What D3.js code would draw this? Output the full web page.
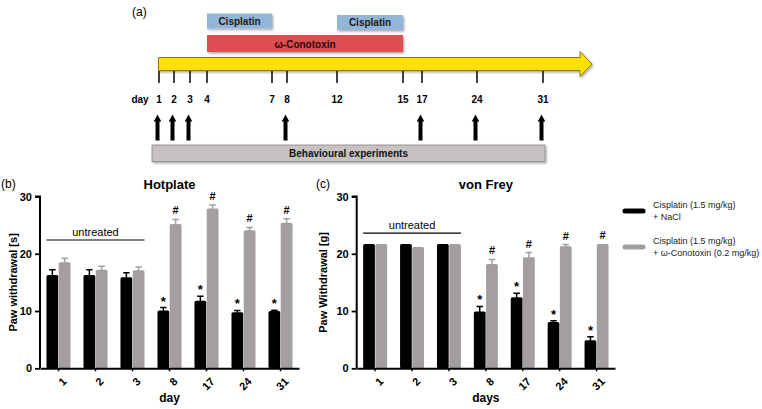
<!DOCTYPE html>
<html><head><meta charset="utf-8">
<script src="https://cdn.jsdelivr.net/npm/d3@7"></script>
<style>
body{margin:0;background:#fff;}
svg{display:block;font-family:"Liberation Sans",Arial,sans-serif;}
</style></head><body>
<svg id="c" width="762" height="409"></svg>
<script>
// ---------- data ----------
const days = ["1","2","3","8","17","24","31"];
const hotNaCl = [16.3,16.3,15.9,10.1,11.8,9.8,10.0];
const hotNaClErr = [0.9,0.9,0.8,0.5,0.8,0.3,0.15];
const hotCono = [18.5,17.2,17.1,25.2,27.9,24.1,25.4];
const hotConoErr = [0.7,0.6,0.6,0.8,0.6,0.5,0.7];
const vfNaCl = [21.7,21.7,21.7,9.9,12.4,8.1,4.9];
const vfNaClErr = [0,0,0,0.9,0.7,0.2,0.6];
const vfCono = [21.7,21.2,21.7,18.2,19.4,21.3,21.7];
const vfConoErr = [0,0,0,0.8,0.8,0.3,0];
const hotSig = ["","","","*","*","*","*"];
const hotSigCono = ["","","","#","#","#","#"];
const vfSig = ["","","","*","*","*","*"];
const vfSigCono = ["","","","#","#","#","#"];
const yTicks = [0,10,20,30];
const untreatedDays = ["1","3"];
const legendLabels = [["Cisplatin (1.5 mg/kg)","+ NaCl"],["Cisplatin (1.5 mg/kg)","+ \u03c9-Conotoxin (0.2 mg/kg)"]];
// timeline
const tlDays = [1,2,3,4,7,8,12,15,17,24,31];
const testDays = [1,2,3,8,17,24,31];
const cisplatinPeriods = [[4,7],[12,15]];
const conotoxinPeriod = [4,15];

const svg = d3.select("#c");
const BLACK = "#000", GRAY = "#a39ea0";

// ---------- panel (a): timeline ----------
// schematic (non-uniform) day positions as in the original drawing
const tx = d3.scaleLinear().domain(tlDays).range([159,174,190,207,272,287,337,403,422,477,543]);
const ga = svg.append("g");
const defs = svg.append("defs");
const f = defs.append("filter").attr("id","sh").attr("x","-10%").attr("y","-30%").attr("width","130%").attr("height","180%");
f.append("feDropShadow").attr("dx",1.2).attr("dy",1.5).attr("stdDeviation",0.8).attr("flood-color","#000").attr("flood-opacity",0.35);

ga.append("text").attr("x",132).attr("y",16).attr("font-size",12).text("(a)");

ga.selectAll("rect.cis").data(cisplatinPeriods).join("rect")
  .attr("x",d=>tx(d[0])).attr("y",(d,i)=>i?15:13.5)
  .attr("width",d=>tx(d[1])-tx(d[0])).attr("height",15)
  .attr("fill","#93b5d8").attr("filter","url(#sh)");
ga.selectAll("text.cis").data(cisplatinPeriods).join("text")
  .attr("x",d=>(tx(d[0])+tx(d[1]))/2).attr("y",(d,i)=>i?26:24.5)
  .attr("text-anchor","middle").attr("font-size",10).attr("font-weight","bold").attr("fill","#1a1a1a")
  .text("Cisplatin");
ga.append("rect").attr("x",tx(conotoxinPeriod[0])).attr("y",35)
  .attr("width",tx(conotoxinPeriod[1])-tx(conotoxinPeriod[0])).attr("height",17)
  .attr("fill","#de4d4f").attr("filter","url(#sh)");
ga.append("text").attr("x",(tx(conotoxinPeriod[0])+tx(conotoxinPeriod[1]))/2).attr("y",47.5)
  .attr("text-anchor","middle").attr("font-size",10).attr("font-weight","bold").attr("fill","#2a0a0a")
  .text("\u03c9-Conotoxin");

// yellow arrow
const ax0 = tx(1)-0.5, axH = 580, axE = 592;
ga.append("path")
  .attr("d",`M${ax0},57.5 L${axH},57.5 L${axH},51.5 L${axE},64 L${axH},76.5 L${axH},70.5 L${ax0},70.5 Z`)
  .attr("fill","#ffe100").attr("stroke","#8a7a10").attr("stroke-width",1).attr("filter","url(#sh)");

ga.selectAll("line.tk").data(tlDays).join("line")
  .attr("x1",d=>tx(d)).attr("x2",d=>tx(d)).attr("y1",71).attr("y2",83)
  .attr("stroke","#111").attr("stroke-width",1.6);
ga.append("text").attr("x",140).attr("y",103).attr("text-anchor","middle")
  .attr("font-size",10).attr("font-weight","bold").text("day");
ga.selectAll("text.dl").data(tlDays).join("text")
  .attr("x",d=>tx(d)).attr("y",103).attr("text-anchor","middle")
  .attr("font-size",10).attr("font-weight","bold").text(d=>d);

// behavioural arrows
ga.selectAll("path.arr").data(testDays).join("path")
  .attr("d",d=>{const x=tx(d)-1.5;return `M${x-2},140.5 L${x-2},121.5 L${x-3.8},121.5 L${x},114.5 L${x+3.8},121.5 L${x+2},121.5 L${x+2},140.5 Z`;})
  .attr("fill","#000");
ga.append("rect").attr("x",tx(1)-7).attr("y",145).attr("width",tx(31)+2-(tx(1)-7)).attr("height",16.5)
  .attr("fill","#c7c2c2").attr("stroke","#8d8888").attr("stroke-width",0.8).attr("filter","url(#sh)");
ga.append("text").attr("x",(tx(1)-7+tx(31)+2)/2).attr("y",157).attr("text-anchor","middle")
  .attr("font-size",10).attr("font-weight","bold").attr("fill","#111").text("Behavioural experiments");

// ---------- bar panels ----------
function panel(o){
  const g = svg.append("g");
  const x = d3.scaleBand().domain(days).range([o.x0,o.x1]).paddingInner(0.35).paddingOuter(0.175);
  const xs = d3.scaleBand().domain([0,1]).range([0,x.bandwidth()]).paddingInner(0.04);
  const y = d3.scaleLinear().domain([0,30]).range([368.3,196.5]);
  const series=[{v:o.a,e:o.ae,c:BLACK,s:o.as},{v:o.b,e:o.be,c:GRAY,s:o.bs}];
  series.forEach((s,si)=>{
    const gg=g.append("g");
    gg.selectAll("rect").data(days).join("rect")
      .attr("x",d=>x(d)+xs(si)).attr("width",xs.bandwidth())
      .attr("y",(d,i)=>y(s.v[i])).attr("height",(d,i)=>y(0)-y(s.v[i]))
      .attr("fill",s.c).attr("rx",1.5);
    gg.selectAll("path.eb").data(days).join("path")
      .attr("d",(d,i)=>{ if(!s.e[i]) return ""; const cx=x(d)+xs(si)+xs.bandwidth()/2; const t=y(s.v[i]+s.e[i]);
        return `M${cx},${y(s.v[i])+1} L${cx},${t} M${cx-3.2},${t} L${cx+3.2},${t}`;})
      .attr("stroke",s.c).attr("stroke-width",1.5).attr("fill","none");
    gg.selectAll("text.sig").data(days).join("text")
      .attr("x",d=>x(d)+xs(si)+xs.bandwidth()/2)
      .attr("y",(d,i)=>y(s.v[i]+s.e[i])-(si?5:2))
      .attr("text-anchor","middle").attr("font-weight","bold")
      .attr("font-size",si?11:13).text((d,i)=>s.s[i]);
  });
  const ya = g.append("g").attr("transform",`translate(${o.x0},0)`)
    .call(d3.axisLeft(y).tickValues(yTicks).tickSize(5).tickPadding(3));
  ya.select(".domain").attr("stroke-width",2).attr("d",`M-5,${y(30)}H0V${y(0)}`);
  ya.selectAll(".tick line").attr("stroke-width",1.8);
  ya.selectAll(".tick text").attr("font-size",11).attr("font-weight","bold").attr("font-family","Liberation Sans, Arial, sans-serif");
  const xa = g.append("g").attr("transform",`translate(0,${y(0)})`)
    .call(d3.axisBottom(x).tickSize(3).tickPadding(4).tickSizeOuter(0));
  xa.select(".domain").attr("stroke-width",2);
  xa.selectAll(".tick line").attr("stroke-width",1.5);
  xa.selectAll(".tick text").attr("font-size",11).attr("font-weight","bold")
    .attr("font-family","Liberation Sans, Arial, sans-serif")
    .attr("text-anchor","end").attr("dy",0).attr("transform","translate(4,9) rotate(-45)");
  const ux0 = x(untreatedDays[0]), ux1 = x(untreatedDays[1])+x.bandwidth();
  g.append("line").attr("x1",ux0).attr("x2",ux1).attr("y1",y(o.unt)).attr("y2",y(o.unt))
    .attr("stroke","#000").attr("stroke-width",1.2);
  g.append("text").attr("x",(ux0+ux1)/2).attr("y",y(o.unt)-4).attr("text-anchor","middle")
    .attr("font-size",11).text("untreated");
  g.append("text").attr("x",(o.x0+o.x1)/2).attr("y",189).attr("text-anchor","middle")
    .attr("font-size",13).attr("font-weight","bold").text(o.title);
  g.append("text").attr("x",(o.x0+o.x1)/2).attr("y",402).attr("text-anchor","middle")
    .attr("font-size",12).attr("font-weight","bold").text(o.xlab);
  g.append("text").attr("transform",`translate(${o.ylx},${(y(0)+y(30))/2}) rotate(-90)`)
    .attr("text-anchor","middle").attr("font-size",11).attr("font-weight","bold").text(o.ylab);
  g.append("text").attr("x",o.tagx).attr("y",188).attr("font-size",12).text(o.tag);
}
panel({x0:40,x1:299,a:hotNaCl,ae:hotNaClErr,b:hotCono,be:hotConoErr,as:hotSig,bs:hotSigCono,
  unt:22.4,title:"Hotplate",xlab:"day",ylab:"Paw withdrawal [s]",ylx:17,tag:"(b)",tagx:1});
panel({x0:356.7,x1:615,a:vfNaCl,ae:vfNaClErr,b:vfCono,be:vfConoErr,as:vfSig,bs:vfSigCono,
  unt:23.6,title:"von Frey",xlab:"days",ylab:"Paw Withdrawal [g]",ylx:327,tag:"(c)",tagx:316});

// legend
const lg = svg.append("g").attr("transform","translate(623,0)");
[BLACK,GRAY].forEach((c,i)=>{
  const yy = i?247:211;
  lg.append("line").attr("x1",2).attr("x2",20).attr("y1",yy).attr("y2",yy)
    .attr("stroke",c).attr("stroke-width",5).attr("stroke-linecap","round");
  legendLabels[i].forEach((t,j)=>{
    lg.append("text").attr("x",30).attr("y",yy-3+j*12).attr("font-size",9).attr("fill","#222").text(t);
  });
});
</script></body></html>
